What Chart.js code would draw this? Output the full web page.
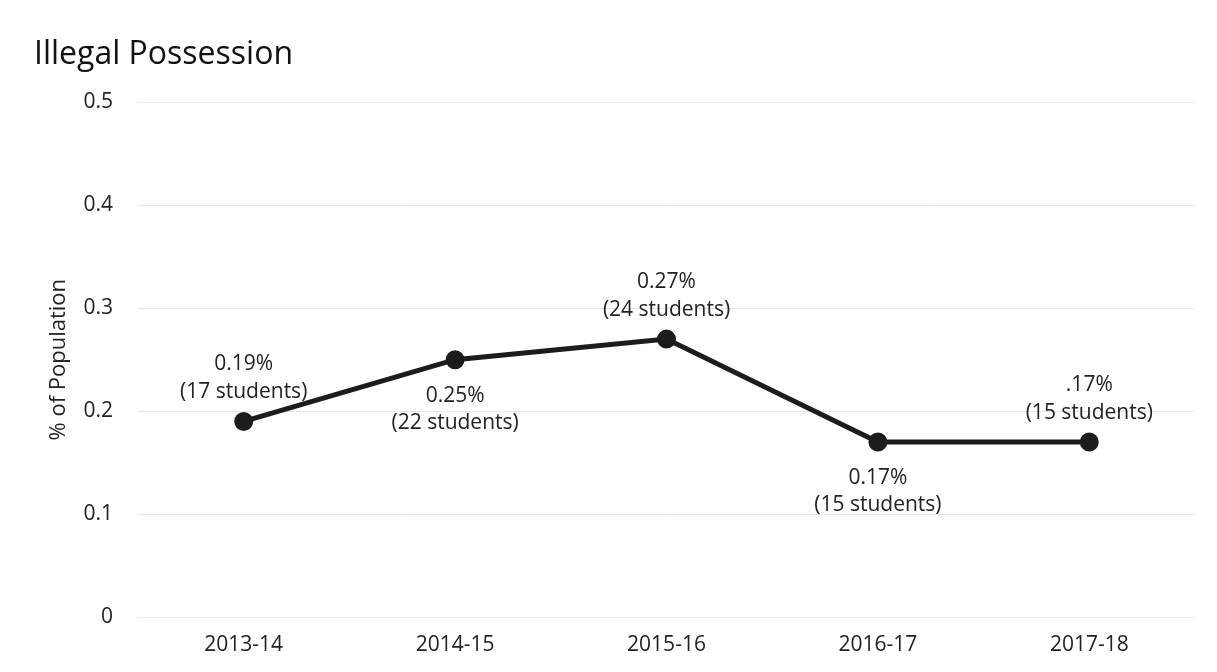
<!DOCTYPE html>
<html>
<head>
<meta charset="utf-8">
<script src="https://cdn.jsdelivr.net/npm/chart.js@4.4.1/dist/chart.umd.min.js"></script>
<style>
  html, body { margin: 0; padding: 0; background: #ffffff; }
  #wrap { width: 1217px; height: 672px; position: relative; }
</style>
</head>
<body>
<div id="wrap"><canvas id="c"></canvas></div>
<script>
const chartTitle = "Illegal Possession";
const yAxisTitle = "% of Population";
const categories = ["2013-14", "2014-15", "2015-16", "2016-17", "2017-18"];
const percentValues = [0.19, 0.25, 0.27, 0.17, 0.17];
const pctLabels = ["0.19%", "0.25%", "0.27%", "0.17%", ".17%"];
const studentLabels = ["(17 students)", "(22 students)", "(24 students)", "(15 students)", "(15 students)"];
const labelSides = ["above", "below", "above", "below", "above"];

const FONT = "'Open Sans', 'DejaVu Sans', sans-serif";

const dataLabelPlugin = {
  id: 'twoLineLabels',
  afterDatasetsDraw(chart) {
    const ctx = chart.ctx;
    const meta = chart.getDatasetMeta(0);
    ctx.save();
    ctx.font = "21px " + FONT;
    ctx.fillStyle = "#222222";
    ctx.textAlign = "center";
    ctx.textBaseline = "middle";
    meta.data.forEach((pt, i) => {
      const above = labelSides[i] === "above";
      const y1 = above ? pt.y - 57 : pt.y + 36;
      const y2 = above ? pt.y - 29 : pt.y + 63;
      ctx.fillText(pctLabels[i], pt.x, y1);
      ctx.fillText(studentLabels[i], pt.x, y2);
    });
    ctx.restore();
  }
};

new Chart(document.getElementById('c'), {
  type: 'line',
  data: {
    labels: categories,
    datasets: [{
      data: percentValues,
      borderColor: '#1c1c1c',
      backgroundColor: '#1c1c1c',
      borderWidth: 5,
      pointRadius: 7,
      pointBackgroundColor: '#1c1c1c',
      pointBorderColor: '#1c1c1c',
      tension: 0,
      fill: false
    }]
  },
  options: {
    responsive: true,
    maintainAspectRatio: false,
    animation: false,
    layout: { padding: { left: 34, right: 22, top: 0, bottom: 0 } },
    plugins: {
      legend: { display: false },
      tooltip: { enabled: false },
      title: {
        display: true,
        text: chartTitle,
        align: 'start',
        color: '#111111',
        font: { family: FONT, size: 32, weight: 'normal' },
        padding: { top: 36, bottom: 28 }
      }
    },
    scales: {
      x: {
        offset: true,
        grid: { display: false, drawTicks: false },
        border: { display: false },
        ticks: { color: '#222222', font: { family: FONT, size: 21 }, padding: 15, maxRotation: 0 },
        afterFit(s) { s.height = 55; }
      },
      y: {
        min: 0,
        max: 0.5,
        ticks: {
          stepSize: 0.1,
          color: '#222222',
          font: { family: FONT, size: 21 },
          padding: 25,
          callback: v => (Math.round(v * 10) / 10).toString()
        },
        grid: { color: '#e8e8e8', lineWidth: 1, drawTicks: false },
        border: { display: false },
        title: {
          display: true,
          text: yAxisTitle,
          color: '#222222',
          font: { family: FONT, size: 22 },
          padding: { top: 12, bottom: 0 }
        },
        afterFit(s) { s.width = 104; }
      }
    }
  },
  plugins: [dataLabelPlugin]
});
</script>
</body>
</html>
